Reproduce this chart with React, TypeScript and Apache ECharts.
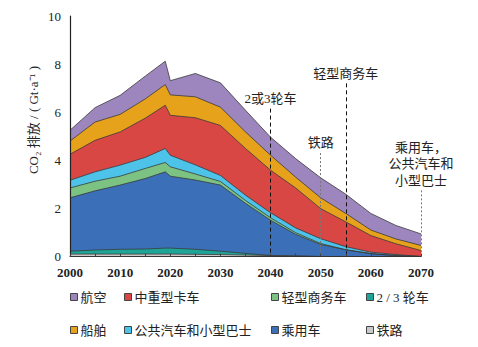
import React, { useEffect, useRef } from "react";
import * as echarts from "echarts";

const years = [2000, 2005, 2010, 2015, 2019, 2020, 2025, 2030, 2035, 2040, 2045, 2050, 2055, 2060, 2065, 2070];
const rail = [0.10, 0.10, 0.10, 0.10, 0.10, 0.10, 0.09, 0.08, 0.06, 0.04, 0.02, 0, 0, 0, 0, 0];
const twoThreeWheel = [0.12, 0.17, 0.20, 0.21, 0.25, 0.25, 0.21, 0.14, 0.07, 0, 0, 0, 0, 0, 0, 0];
const passengerCar = [2.22, 2.46, 2.67, 2.93, 3.17, 2.99, 2.88, 2.75, 2.08, 1.47, 0.90, 0.50, 0.28, 0.12, 0.04, 0];
const lightCommercial = [0.41, 0.40, 0.37, 0.42, 0.39, 0.39, 0.25, 0.15, 0.12, 0.10, 0.07, 0.04, 0, 0, 0, 0];
const busMinibus = [0.32, 0.39, 0.46, 0.46, 0.58, 0.48, 0.38, 0.25, 0.22, 0.21, 0.20, 0.20, 0.13, 0.06, 0.04, 0];
const heavyTruck = [1.08, 1.31, 1.38, 1.63, 1.80, 1.66, 1.96, 2.08, 1.94, 1.77, 1.66, 1.25, 1.03, 0.69, 0.45, 0.25];
const shipping = [0.55, 0.76, 0.73, 0.80, 0.86, 0.85, 0.87, 0.76, 0.69, 0.62, 0.45, 0.45, 0.35, 0.23, 0.20, 0.21];
const aviation = [0.45, 0.60, 0.79, 0.95, 0.97, 0.59, 0.97, 1.01, 0.90, 0.75, 0.77, 0.83, 0.80, 0.69, 0.56, 0.48];

// bottom to top
const seriesNames = ["铁路", "2 / 3 轮车", "乘用车", "轻型商务车", "公共汽车和小型巴士", "中重型卡车", "船舶", "航空"];
const seriesColors = ["#c9c9c9", "#1fa597", "#3b70b8", "#7cc383", "#4ec3ea", "#d84744", "#e7a21c", "#9d86bd"];
const seriesValues = [rail, twoThreeWheel, passengerCar, lightCommercial, busMinibus, heavyTruck, shipping, aviation];

const legendColumns = [
  ["航空", "船舶"],
  ["中重型卡车", "公共汽车和小型巴士"],
  ["轻型商务车", "乘用车"],
  ["2 / 3 轮车", "铁路"],
];
const legendLefts = [70, 124, 271, 366];

const annotations = [
  { year: 2040, top: 6.15, text: "2或3轮车", dark: true },
  { year: 2050, top: 4.3, text: "铁路", dark: false },
  { year: 2055, top: 7.2, text: "轻型商务车", dark: true },
  { year: 2070, top: 2.75, text: "乘用车，\n公共汽车和\n小型巴士", dark: false },
];

const xRange = [2000, 2070];
const yRange = [0, 10];

const serifFont = "'Liberation Serif', 'Noto Sans CJK SC', serif";
const cjkFont = "'Liberation Serif', 'Noto Sans CJK SC', sans-serif";

export default function App() {
  const ref = useRef<HTMLDivElement>(null);
  useEffect(() => {
    if (!ref.current) return;
    const chart = echarts.init(ref.current, undefined, { renderer: "svg" });

    // cumulative totals (stack computed here because both axes are numeric)
    const cumulative: number[][] = [];
    seriesValues.forEach((vals, i) => {
      cumulative.push(vals.map((v, j) => +(v + (i > 0 ? cumulative[i - 1][j] : 0)).toFixed(4)));
    });

    const series: any[] = [];
    for (let i = seriesNames.length - 1; i >= 0; i--) {
      series.push({
        name: seriesNames[i],
        type: "line",
        data: years.map((y, j) => [y, cumulative[i][j]]),
        showSymbol: false,
        symbol: "none",
        lineStyle: { color: "#3a3a3a", width: 0.8 },
        itemStyle: { color: seriesColors[i], borderColor: "#444", borderWidth: 1 },
        areaStyle: { color: seriesColors[i], opacity: 1, origin: "start" },
      });
    }
    series.push({
      name: "annotations",
      type: "line",
      data: [],
      z: 5,
      markLine: {
        symbol: ["none", "none"],
        silent: true,
        animation: false,
        data: annotations.map((a) => [
          {
            coord: [a.year, a.top],
            lineStyle: {
              color: a.dark ? "#111" : "#777",
              type: a.dark ? [4, 3] : [2, 2],
              width: 1,
            },
            label: {
              show: true,
              position: "start",
              formatter: a.text,
              fontFamily: cjkFont,
              fontSize: 13,
              lineHeight: 16.5,
              color: "#222",
              align: "center",
              distance: 2,
            },
          },
          { coord: [a.year, 0] },
        ]),
      },
    });
    chart.setOption({
      animation: false,
      backgroundColor: "#fff",
      grid: { left: 70, right: 57, top: 16, bottom: 90.5, containLabel: false },
      xAxis: {
        type: "value",
        min: xRange[0],
        max: xRange[1],
        interval: 5,
        axisLine: { show: true, lineStyle: { color: "#333", width: 1 } },
        axisTick: { show: true, inside: true, length: 3, lineStyle: { color: "#444" } },
        splitLine: { show: false },
        axisLabel: {
          formatter: (v: number) => (v % 10 === 0 ? String(v) : ""),
          fontFamily: serifFont,
          fontSize: 13,
          fontWeight: "bold",
          color: "#222",
          margin: 9,
        },
        z: 10,
      },
      yAxis: {
        type: "value",
        min: yRange[0],
        max: yRange[1],
        interval: 2,
        axisLine: { show: true, lineStyle: { color: "#222", width: 1.2 } },
        axisTick: { show: false },
        splitLine: { show: false },
        axisLabel: { fontFamily: serifFont, fontSize: 13, color: "#222", margin: 9 },
        z: 10,
      },
      legend: legendColumns.map((col, i) => ({
        data: col,
        orient: "vertical",
        left: legendLefts[i],
        top: 290,
        padding: 0,
        itemGap: 19,
        itemWidth: 7,
        itemHeight: 7,
        icon: "rect",
        itemStyle: { borderColor: "#444", borderWidth: 1 },
        textStyle: { fontFamily: cjkFont, fontSize: 13, color: "#222", lineHeight: 14, padding: [0, 0, 0, -2] },
        selectedMode: false,
      })),
      graphic: [
        {
          type: "text",
          x: 33,
          y: 120,
          rotation: Math.PI / 2,
          style: {
            text: "CO₂ 排放 / ( Gt·a⁻¹ )",
            fontFamily: cjkFont,
            fontSize: 13,
            fill: "#222",
            align: "center",
            verticalAlign: "middle",
          },
        },
      ],
      series,
    });
    return () => chart.dispose();
  }, []);
  return (
    <div
      ref={ref}
      style={{ position: "fixed", left: 0, top: 0, width: 478, height: 347, background: "#fff" }}
    />
  );
}
